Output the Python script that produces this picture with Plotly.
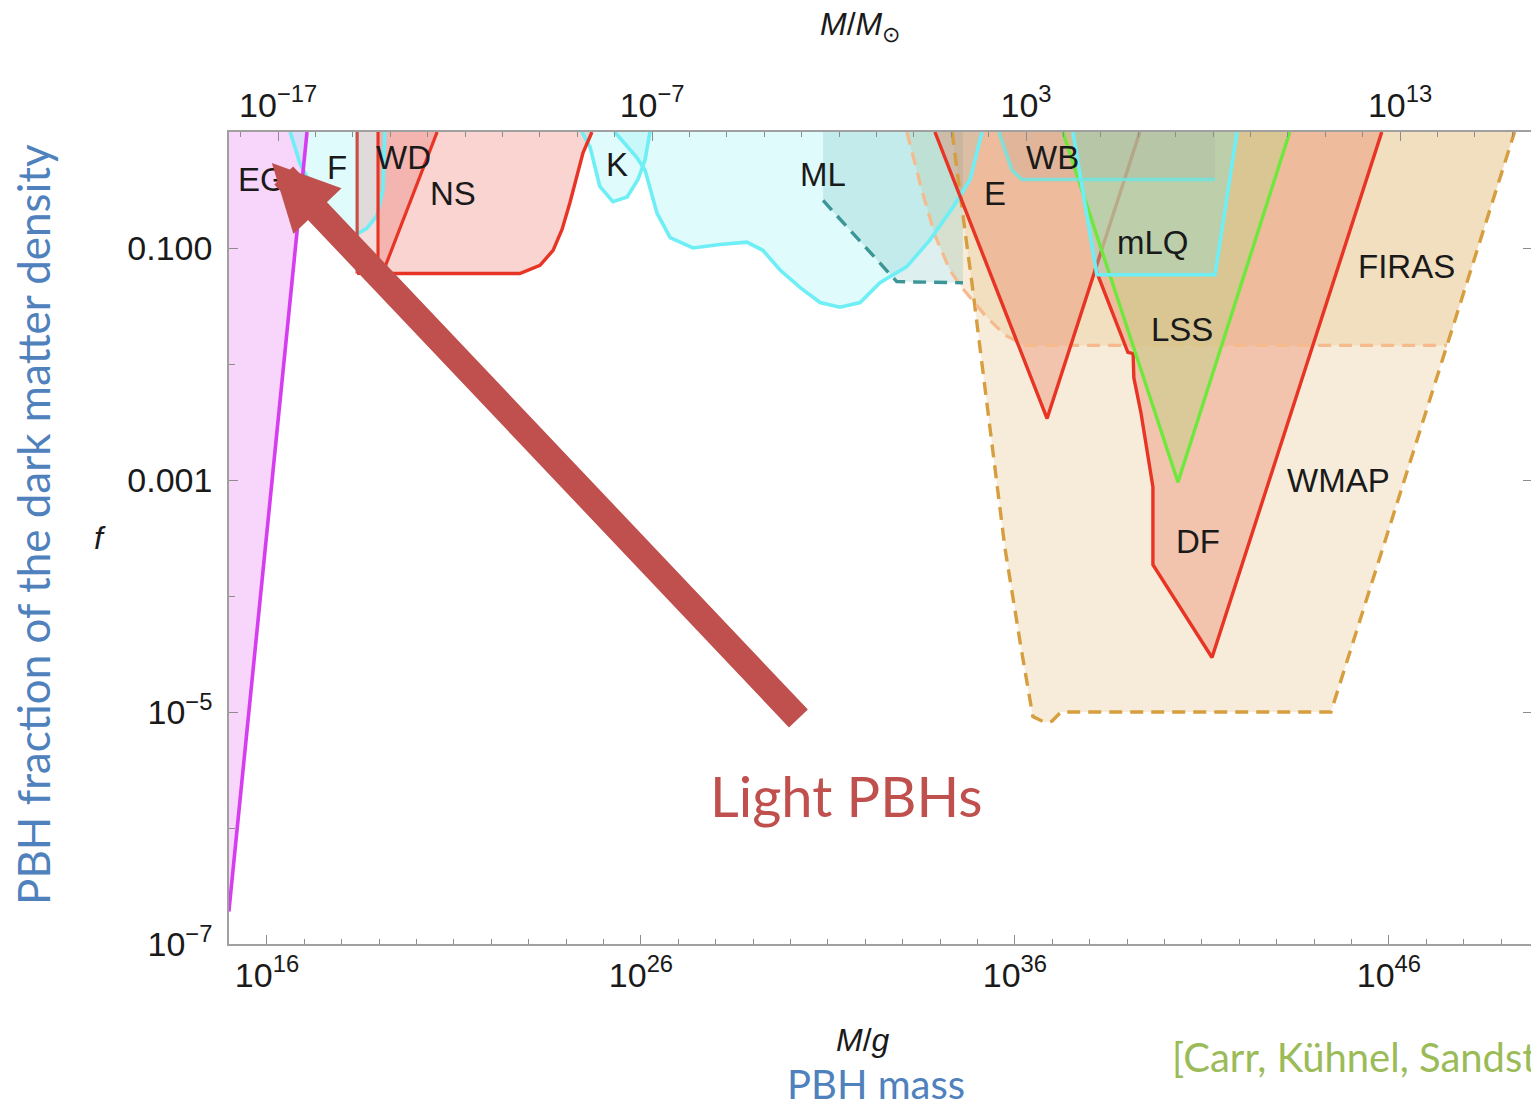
import numpy as np
import plotly.graph_objects as go

# ---- axes -------------------------------------------------------------
LOG_MSUN_G = 33.2986                 # log10 of the solar mass in grams
LOGM_RANGE = [14.984, 49.80]         # log10(M/g) window
LOGF_RANGE = [-7.0, 0.0]             # log10(f) window

x_major = [16, 26, 36, 46]
x_minor = list(range(15, 50))
top_major = [-17, -7, 3, 13]
top_minor = list(range(-18, 17))
y_major = [-1, -3, -5, -7]
y_major_text = ["0.100", "0.001", "10<sup>\u22125</sup>", "10<sup>\u22127</sup>"]
y_minor = [0, -2, -4, -6]

# ---- constraint boundaries: log10(M/g), log10(f) -------------------------
eg_logm = [14.98, 17.07, 14.98]
eg_logf = [-6.72, 0.0, 0.0]

f_logm = [16.62, 16.88, 17.07, 17.34, 17.60, 17.95, 18.30, 18.67, 18.94, 19.10, 19.15]
f_logf = [0.0, -0.27, -0.39, -0.61, -0.85, -0.94, -0.90, -0.83, -0.72, -0.50, 0.0]

band_logm = [18.41, 18.41, 18.97, 18.97]
band_logf = [0.0, -1.22, -1.22, 0.0]

wd_logm = [18.97, 18.97, 19.10, 20.55]
wd_logf = [0.0, -1.21, -1.21, 0.0]

ns_logm = [19.02, 19.02, 22.76, 23.30, 23.65, 23.89, 24.10, 24.45, 24.69]
ns_logf = [0.0, -1.22, -1.22, -1.15, -1.02, -0.84, -0.61, -0.18, 0.0]

k_logm = [24.42, 24.64, 24.90, 25.25, 25.63, 25.92, 26.11, 26.24]
k_logf = [0.0, -0.13, -0.47, -0.60, -0.56, -0.41, -0.24, 0.0]

ml_logm = [25.30, 25.89, 26.11, 26.24, 26.43, 26.78, 27.39, 28.11, 28.83, 29.26, 29.72,
           30.25, 30.79, 31.32, 31.86, 32.39, 33.11, 33.73, 34.34, 34.80, 35.12]
ml_logf = [0.0, -0.22, -0.33, -0.47, -0.70, -0.91, -1.00, -0.97, -0.95, -1.02, -1.19,
           -1.34, -1.47, -1.51, -1.47, -1.30, -1.16, -0.93, -0.65, -0.41, 0.0]

mld_logm = [30.87, 30.87, 32.84, 34.61, 34.61]
mld_logf = [0.0, -0.59, -1.29, -1.30, 0.0]

firas_logm = [33.11, 33.51, 33.86, 34.26, 34.58, 35.20, 35.73, 36.27, 47.55, 49.36]
firas_logf = [0.0, -0.50, -0.89, -1.19, -1.34, -1.58, -1.75, -1.84, -1.84, 0.0]

wmap_logm = [34.32, 34.48, 34.66, 34.85, 35.06, 35.41, 35.73, 36.16, 36.48, 36.80,
             36.99, 37.23, 44.45, 49.36]
wmap_logf = [0.0, -0.41, -0.84, -1.30, -1.85, -2.72, -3.58, -4.44, -5.04, -5.09,
             -5.08, -5.0, -5.0, 0.0]

e_logm = [33.86, 36.86, 39.34]
e_logf = [0.0, -2.47, 0.0]

df_logm = [39.34, 38.14, 39.02, 39.16, 39.16, 39.18, 39.37, 39.69, 39.69, 41.27, 45.81]
df_logf = [0.0, -1.17, -1.90, -1.91, -2.10, -2.12, -2.42, -3.06, -3.73, -4.53, 0.0]

lss_logm = [37.28, 40.36, 43.35]
lss_logf = [0.0, -3.02, 0.0]

mlq_logm = [37.55, 38.19, 41.35, 41.94]
mlq_logf = [0.0, -1.23, -1.23, 0.0]

wb_logm = [35.57, 35.73, 35.92, 36.19, 41.35, 41.35]
wb_logf = [0.0, -0.16, -0.33, -0.41, -0.41, 0.0]

# region labels
label_text = ["EG", "F", "WD", "NS", "K", "ML", "E", "WB", "mLQ", "LSS", "FIRAS", "WMAP", "DF"]
label_logm = [15.87, 17.88, 19.66, 20.97, 25.36, 30.86, 35.46, 37.00, 39.69, 40.46, 46.48, 44.64, 40.90]
label_logf = [-0.41, -0.31, -0.22, -0.53, -0.28, -0.37, -0.53, -0.22, -0.95, -1.70, -1.16, -3.00, -3.53]

# ---- colours ------------------------------------------------------------
RED = "rgb(232,52,36)"
CYAN = "rgb(110,238,245)"
GREEN = "rgb(110,232,60)"
MAGENTA = "rgb(214,60,240)"
TAN = "rgb(214,158,62)"
LIGHT_ORANGE = "rgb(246,186,140)"
TEAL = "rgb(60,150,152)"

fig = go.Figure()


def pts(logm, logf, shift=0.0):
    return 10 ** (np.asarray(logm, float) - shift), 10 ** np.asarray(logf, float)


def region(logm, logf, color):
    x, y = pts(logm, logf)
    fig.add_trace(go.Scatter(x=x, y=y, mode="lines", fill="toself", fillcolor=color,
                             line=dict(width=0), hoverinfo="skip", showlegend=False))


def edge(logm, logf, color, width=3.4, dash=None, solar=False):
    # solar=True draws the curve against the M/M_sun axis (top) instead of M/g
    x, y = pts(logm, logf, LOG_MSUN_G if solar else 0.0)
    extra = dict(xaxis="x2", yaxis="y2") if solar else {}
    fig.add_trace(go.Scatter(x=x, y=y, mode="lines",
                             line=dict(color=color, width=width, dash=dash),
                             hoverinfo="skip", showlegend=False, **extra))


# shaded regions (lower layers)
region(wmap_logm, wmap_logf, "rgba(232,196,140,0.33)")
region(firas_logm, firas_logf, "rgba(232,196,140,0.33)")
region(eg_logm, eg_logf, "rgba(232,120,242,0.30)")
region(f_logm, f_logf, "rgba(130,240,245,0.25)")
region(band_logm, band_logf, "rgba(225,150,150,0.32)")
region(ns_logm, ns_logf, "rgba(235,100,90,0.28)")
region(wd_logm, wd_logf, "rgba(235,100,90,0.28)")
region(k_logm, k_logf, "rgba(130,240,245,0.25)")
region(ml_logm, ml_logf, "rgba(130,240,245,0.25)")
region(mld_logm, mld_logf, "rgba(60,160,160,0.17)")
region(e_logm, e_logf, "rgba(235,115,85,0.33)")
region(df_logm, df_logf, "rgba(235,115,85,0.33)")

# boundaries
edge(wmap_logm, wmap_logf, TAN, 3.4, "13px,8px")
edge(firas_logm[:-1], firas_logf[:-1], LIGHT_ORANGE, 3.2, "13px,8px")
edge(mld_logm[1:4], mld_logf[1:4], TEAL, 3.4, "13px,8px")
edge(f_logm, f_logf, CYAN, 3.6)
edge(k_logm, k_logf, CYAN, 3.6)
edge(ml_logm, ml_logf, CYAN, 3.6)
edge(band_logm[:2], band_logf[:2], "rgb(200,80,70)", 3.2)
edge(band_logm[1:], band_logf[1:], RED, 3.2)
edge(wd_logm[2:], wd_logf[2:], RED, 3.2)
edge(ns_logm[1:], ns_logf[1:], RED, 3.4)
edge(e_logm, e_logf, RED, 3.4)
edge(df_logm[1:], df_logf[1:], RED, 3.4)
edge(eg_logm[:2], eg_logf[:2], MAGENTA, 3.6, solar=True)

# upper shaded regions
region(lss_logm, lss_logf, "rgba(205,205,140,0.62)")
region(mlq_logm, mlq_logf, "rgba(120,225,225,0.30)")
region(wb_logm, wb_logf, "rgba(150,150,140,0.14)")
edge(lss_logm, lss_logf, GREEN, 3.4)
edge(mlq_logm, mlq_logf, CYAN, 3.6)
edge(wb_logm[:-1], wb_logf[:-1], "rgba(110,230,225,0.85)", 3.6)

TICKFONT = dict(family="Liberation Sans, Arial, sans-serif", size=34, color="#1a1a1a")
AXLINE = "#a0a0a0"
TICKCOL = "#8c8c8c"


def sup(e):
    return "10<sup>" + str(e).replace("-", "\u2212") + "</sup>"


fig.update_layout(
    width=1531, height=1109,
    margin=dict(l=229, r=0, t=132, b=165),
    paper_bgcolor="white", plot_bgcolor="white",
    showlegend=False,
    xaxis=dict(
        type="log", range=LOGM_RANGE, showgrid=False, zeroline=False,
        showline=True, linecolor=AXLINE, linewidth=1.5,
        ticks="inside", ticklen=9, tickwidth=1.2, tickcolor=TICKCOL,
        tickmode="array", tickvals=[10.0 ** e for e in x_major],
        ticktext=[sup(e) for e in x_major], tickfont=TICKFONT, ticklabelstandoff=0,
        minor=dict(ticks="inside", ticklen=5, tickwidth=1.0, tickcolor=TICKCOL,
                   tickmode="array", tickvals=[10.0 ** e for e in x_minor], showgrid=False),
    ),
    xaxis2=dict(
        type="log", overlaying="x", side="top", anchor="y2",
        range=[LOGM_RANGE[0] - LOG_MSUN_G, LOGM_RANGE[1] - LOG_MSUN_G],
        showgrid=False, zeroline=False, showline=True, linecolor=AXLINE, linewidth=1.5,
        ticks="inside", ticklen=9, tickwidth=1.2, tickcolor=TICKCOL,
        tickmode="array", tickvals=[10.0 ** e for e in top_major],
        ticktext=[sup(e) for e in top_major], tickfont=TICKFONT, ticklabelstandoff=0,
        minor=dict(ticks="inside", ticklen=5, tickwidth=1.0, tickcolor=TICKCOL,
                   tickmode="array", tickvals=[10.0 ** e for e in top_minor], showgrid=False),
    ),
    yaxis=dict(
        type="log", range=LOGF_RANGE, showgrid=False, zeroline=False,
        showline=True, linecolor=AXLINE, linewidth=1.5,
        ticks="inside", ticklen=9, tickwidth=1.2, tickcolor=TICKCOL,
        tickmode="array", tickvals=[10.0 ** e for e in y_major], ticktext=y_major_text,
        tickfont=TICKFONT, ticklabelstandoff=8,
        minor=dict(ticks="inside", ticklen=6, tickwidth=1.0, tickcolor=TICKCOL,
                   tickmode="array", tickvals=[10.0 ** e for e in y_minor], showgrid=False),
    ),
    yaxis2=dict(
        type="log", overlaying="y", side="right", anchor="x2", range=LOGF_RANGE,
        showgrid=False, zeroline=False, showline=False, showticklabels=False,
        ticks="inside", ticklen=8, tickwidth=1.2, tickcolor=TICKCOL,
        tickmode="array", tickvals=[10.0 ** e for e in y_major[:3]],
    ),
)

# region labels (annotation positions on log axes are given in log10 units)
for t, lm, lf in zip(label_text, label_logm, label_logf):
    fig.add_annotation(x=lm, y=lf, xref="x", yref="y", text=t, showarrow=False,
                       font=dict(family="Liberation Sans, Arial, sans-serif", size=33, color="#1a1a1a"))

# arrow pointing at the light-mass end
fig.add_annotation(x=16.13, y=-0.267, xref="x", yref="y", text="", showarrow=True,
                   ax=528, ay=557, axref="pixel", ayref="pixel",
                   arrowhead=2, arrowwidth=26, arrowsize=0.51, arrowcolor="#c0504d")


def paper_text(px, py, text, font, **kw):
    fig.add_annotation(x=(px - 229) / 1302, y=(944 - py) / 812, xref="paper", yref="paper",
                       text=text, showarrow=False, font=font,
                       xanchor=kw.pop("xanchor", "center"), yanchor="middle", **kw)


paper_text(846, 795, "Light PBHs", dict(family="Lato, sans-serif", size=56, color="#c0504d"))

# axis titles
AXTITLE = dict(family="Liberation Sans, Arial, sans-serif", size=32, color="#1a1a1a")
paper_text(863, 1040, "<i>M</i>/<i>g</i>", AXTITLE)
paper_text(860, 26, "<i>M</i>/<i>M</i><sub>\u2299</sub>", AXTITLE)
paper_text(100, 538, "<i>f</i>", AXTITLE)

BLUE = "#4f81bd"
paper_text(33, 525, "PBH fraction of the dark matter density",
           dict(family="Lato, sans-serif", size=44, color=BLUE), textangle=-90)
paper_text(876, 1084, "PBH mass", dict(family="Lato, sans-serif", size=40, color=BLUE))
paper_text(1170, 1057, "[Carr, K\u00fchnel, Sandstad 2016]",
           dict(family="Lato, sans-serif", size=40, color="#9bbb59"), xanchor="left")

fig.write_html("out.html")
